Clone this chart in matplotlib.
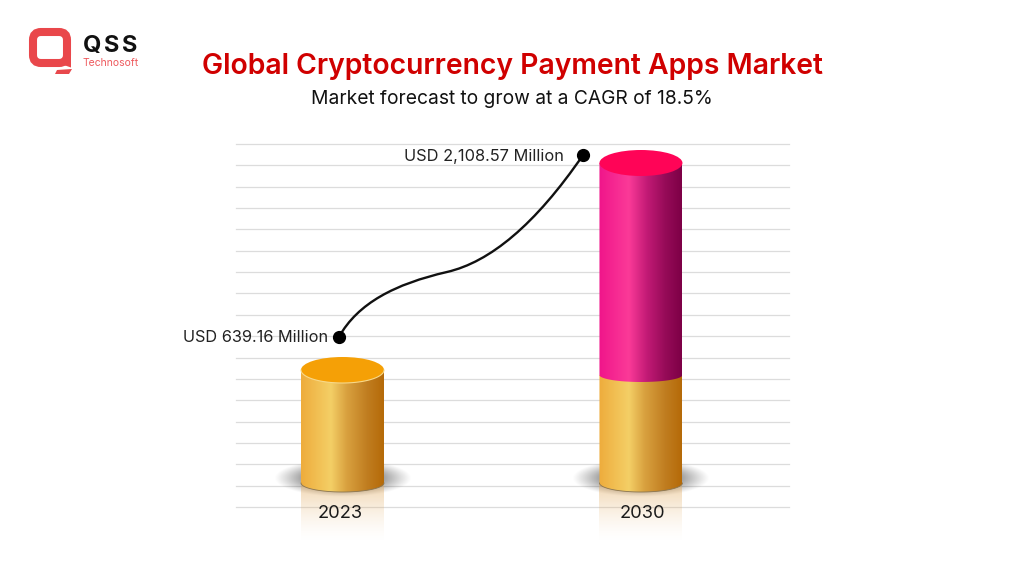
import numpy as np
import matplotlib
matplotlib.use('Agg')
import matplotlib.pyplot as plt
from matplotlib.colors import LinearSegmentedColormap, to_rgb
from matplotlib.patches import FancyBboxPatch, PathPatch, Ellipse, Polygon
from matplotlib.path import Path

# Data. The drum heights are not to scale with the dollars.
years = ['2023', '2030']
value_labels = ['USD 639.16 Million', 'USD 2,108.57 Million']
drum_tops = [109, 316]
gold_tops = [109, 104]
year_x = [-0.008, 1.006]
curve_x = [-0.012, 0.052, 0.176, 0.35, 0.494, 0.645, 0.806]
curve_y = [142, 176, 195, 207, 217, 254, 324]

title = 'Global Cryptocurrency Payment Apps Market'
subtitle = 'Market forecast to grow at a CAGR of 18.5%'

W, H = 1024, 576
plt.rcParams['font.family'] = ['Inter', 'DejaVu Sans']
fig = plt.figure(figsize=(W / 100, H / 100), dpi=100)

# Axes covers the ruled area, one y unit is one pixel, y=0 is the drum base
ax = fig.add_axes([236 / W, 1 - 507 / H, 553 / W, 363 / H])
ax.set_xlim(-0.3568, 1.496)
ax.set_ylim(-28, 335)
ax.set_yticks(np.linspace(-28, 335, 18))
ax.set_yticklabels([])
ax.set_xticks([])
ax.tick_params(length=0)
ax.grid(True, axis='y', color='#dcdcdc', linewidth=0.9)
ax.set_axisbelow(True)
for line in ax.get_ygridlines():
    line.set_clip_on(False)
for s in ax.spines.values():
    s.set_visible(False)

half_w = 41.5 / 298.5
half_h = 13
base_y = -4
base_depth = 9
join_depth = 7

gold = LinearSegmentedColormap.from_list('gold', [(0, '#eeac3c'), (0.36, '#f4cf66'), (0.55, '#d9a13f'), (0.8, '#c07d20'), (1, '#b56a08')])
pink = LinearSegmentedColormap.from_list('pink', [(0, '#f0158a'), (0.36, '#fb3a98'), (0.58, '#c21a75'), (0.8, '#960b58'), (1, '#7d0046')])


def front_arc(x, y, depth):
    t = np.linspace(np.pi, 2 * np.pi, 60)
    return x + half_w * np.cos(t), y + depth * np.sin(t)


def gradient(x, y0, y1, depth, cmap, zorder):
    # side wall of a cylinder: flat top at y1, rounded bottom at y0
    grad = np.linspace(0, 1, 256).reshape(1, -1)
    im = ax.imshow(grad, cmap=cmap, aspect='auto', zorder=zorder,
                   extent=[x - half_w, x + half_w, y0 - depth, y1 + 1])
    xs, ys = front_arc(x, y0, depth)
    pts = np.column_stack([np.r_[xs, x + half_w, x - half_w], np.r_[ys, y1, y1]])
    clip = Polygon(pts, closed=True, transform=ax.transData, fc='none', ec='none')
    ax.add_patch(clip)
    im.set_clip_path(clip)


for i, year in enumerate(years):
    # soft floor shadow behind the drum
    gx, gy = np.meshgrid(np.linspace(-1, 1, 200), np.linspace(-1, 1, 100))
    r = np.clip(np.sqrt(gx ** 2 + gy ** 2), 0, 1)
    shadow = np.zeros((100, 200, 4))
    shadow[..., 3] = (1 - r) ** 1.1
    ax.imshow(shadow, aspect='auto', zorder=2, extent=[i - 0.23, i + 0.23, -18, 20])

    # fading reflection under the drum
    fade = np.zeros((100, 1, 4))
    fade[..., :3] = to_rgb('#e2ab60')
    fade[:, 0, 3] = np.linspace(0.65, 0, 100) ** 1.6
    ref = ax.imshow(fade, aspect='auto', zorder=2, extent=[i - half_w, i + half_w, -64, -4])
    ref.set_clip_on(False)

    gradient(i, base_y, gold_tops[i], base_depth, gold, 3)
    ax.plot(*front_arc(i, base_y, base_depth), color='#8a7550', lw=0.6, zorder=3)
    if drum_tops[i] > gold_tops[i]:
        # pink wall sits on the gold one, its rounded edge overlaps it
        gradient(i, gold_tops[i], drum_tops[i], join_depth, pink, 4)
        ax.add_patch(Ellipse((i, drum_tops[i]), 2 * half_w, 2 * half_h, fc='#ff0457', ec='none', zorder=5))
    else:
        ax.add_patch(Ellipse((i, drum_tops[i]), 2 * half_w, 2 * half_h, fc='#f5a006', ec='none', zorder=5))
        ax.plot(*front_arc(i, drum_tops[i], half_h), color='#f8d98a', lw=0.8, zorder=5)

    ax.text(year_x[i], -35, year, ha='center', va='center', fontsize=13.2, color='#1a1a1a', zorder=6, clip_on=False)

ax.set_xlim(-0.3568, 1.496)
ax.set_ylim(-28, 335)

# Connector between the two value markers
ax.add_patch(PathPatch(Path(np.column_stack([curve_x, curve_y]),
                            [Path.MOVETO] + [Path.CURVE4] * 6),
                       fc='none', ec='#111111', lw=1.7, zorder=6))
ax.plot([curve_x[0], curve_x[-1]], [curve_y[0], curve_y[-1]], 'o', color='#000000', ms=8.5, zorder=7)

ax.text(curve_x[0] - 0.037, curve_y[0] - 1, value_labels[0], ha='right', va='center', fontsize=11.75, color='#222222')
ax.text(curve_x[-1] - 0.065, curve_y[-1] - 1, value_labels[1], ha='right', va='center', fontsize=11.8, color='#222222')

# Headings
fig.text(512 / W, 1 - 73.5 / H, title, ha='center', va='baseline', fontsize=20.4, fontweight='semibold', color='#d00000')
fig.text(512 / W, 1 - 103.5 / H, subtitle, ha='center', va='baseline', fontsize=13.85, color='#111111')

# Logo, drawn in pixel coordinates on its own overlay
lg = fig.add_axes([0, 0, 1, 1], zorder=-1)
lg.set_xlim(0, W)
lg.set_ylim(H, 0)
lg.axis('off')
lg.add_patch(FancyBboxPatch((33, 32), 34, 31, boxstyle='round,pad=0,rounding_size=8', fc='none', ec='#e9474b', lw=5.8))
lg.add_patch(Polygon([[58, 63], [71, 55], [71, 67.5]], fc='#e9474b', ec='none'))
lg.add_patch(Polygon([[57, 70], [72, 69], [69, 74], [55, 74]], fc='#e8484c', ec='none'))
for letter, lx in zip('QSS', [83, 104, 122]):
    lg.text(lx, 52, letter, fontsize=17, fontweight='bold', color='#111111', va='baseline', ha='left')
lg.text(83, 63, 'Technosoft', fontsize=7.5, color='#ee5a5e', va='center', ha='left')

fig.savefig('out.png', dpi=100)
